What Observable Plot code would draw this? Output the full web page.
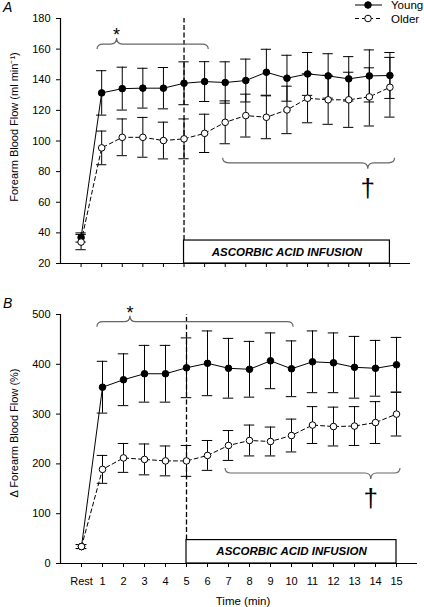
<!DOCTYPE html>
<html><head><meta charset="utf-8">
<script src="https://cdn.jsdelivr.net/npm/d3@7"></script>
<script src="https://cdn.jsdelivr.net/npm/@observablehq/plot@0.6"></script>
<style>
body{margin:0;background:#fff;font-family:"Liberation Sans",Arial,sans-serif;}
#chart{width:424px;}
#chart svg{display:block;overflow:visible;}
</style></head><body><div id="chart"></div>
<script>
// ---- data ----
const timeValues = [0,1,2,3,4,5,6,7,8,9,10,11,12,13,14,15];
const timeLabels = ["Rest","1","2","3","4","5","6","7","8","9","10","11","12","13","14","15"];
const seriesNames = ["Young","Older"];

const flowYoung    = [37,131.4,134.2,134.5,134.5,137.7,138.8,138.2,139.5,144.9,141,143.8,142.5,140.6,142.5,142.8];
const flowYoungErr = [3,14.5,14,13,13.5,14,13,13.5,14,15,15,14,14.5,14.5,17,15];
const flowOlder    = [34,95.5,102.4,102.4,100.3,101.4,105,112.2,116.6,115.5,120.3,127.9,126.9,126.9,128.8,135.1];
const flowOlderErr = [5,11,12,13,12,13,12.5,14,14,14,15.5,16,16,18,19,19.5];

const pctYoung    = [34,354,369,381,381,393,402,392,390,407,391,405,403,394,392,399];
const pctYoungErr = [4,52,52,57,57,60,65,60,56,56,56,62,60,62,56,55];
const pctOlder    = [34,189,212,209,206,206,217,237,247,245,257,278,275,276,283,300];
const pctOlderErr = [4,28,29,31,30,31,30,30,31,29,33,37,39,39,42,44];

const flowTicks = [20,40,60,80,100,120,140,160,180];
const pctTicks = [0,100,200,300,400,500];

const infusionLabel = "ASCORBIC ACID INFUSION";
const infusionStart = 5, infusionEnd = 15;

const flowBraces = [
  {from:0.8, to:6.2, tip:1.75, at:163, dir:-1, symbol:"*"},
  {from:6.9, to:15.25, tip:13.95, at:85.4, dir:1, symbol:"†"}
];
const pctBraces = [
  {from:0.76, to:10.1, tip:2.33, at:484.5, dir:-1, symbol:"*"},
  {from:6.86, to:15.19, tip:13.8, at:180.7, dir:1, symbol:"†"}
];

const FONT = "Liberation Sans, Arial, sans-serif";

function bracesMark(braces) {
  return (index, scales) => {
    const g = d3.create("svg:g").attr("fill", "black");
    for (const b of braces) {
      const x1 = scales.x(b.from), x2 = scales.x(b.to), xt = scales.x(b.tip), y = scales.y(b.at);
      const s = b.dir, c = 6, v = 5, tv = 6;
      const p = `M${x1},${y - s*v} Q${x1},${y} ${x1+c},${y} L${xt-c},${y} Q${xt},${y} ${xt},${y + s*tv} Q${xt},${y} ${xt+c},${y} L${x2-c},${y} Q${x2},${y} ${x2},${y - s*v}`;
      g.append("path").attr("d", p).attr("fill","none").attr("stroke","#666").attr("stroke-width",1.2);
      if (b.symbol === "*") {
        g.append("text").attr("x", xt).attr("y", y - tv + 3).attr("text-anchor","middle")
          .attr("font-family", FONT).attr("font-size", 18).attr("fill", "black").text(b.symbol);
      } else {
        g.append("text").attr("x", xt).attr("y", y + 34).attr("text-anchor","middle")
          .attr("font-family", FONT).attr("font-size", 26).attr("fill", "black").text(b.symbol);
      }
    }
    return g.node();
  };
}

function labelsMark({letter, yLabel, yLabelCenter, legend, xTitle}) {
  return (index, scales, values, dims) => {
    const g = d3.create("svg:g").attr("font-family", FONT).attr("fill","black");
    g.append("text").attr("x", 3).attr("y", 12).attr("text-anchor","start")
      .attr("font-size", 14).attr("font-style","italic").text(letter);
    g.append("text").attr("transform", `translate(18,${yLabelCenter}) rotate(-90)`)
      .attr("text-anchor","middle").attr("font-size", 11).text(yLabel);
    if (legend) {
      const rows = [{name: seriesNames[0], y: 5, fill: "black", dash: null},
                    {name: seriesNames[1], y: 18.5, fill: "white", dash: "4,3"}];
      for (const r of rows) {
        g.append("line").attr("x1",355).attr("x2",382).attr("y1",r.y).attr("y2",r.y)
          .attr("stroke","black").attr("stroke-width",1).attr("stroke-dasharray", r.dash);
        g.append("circle").attr("cx",368).attr("cy",r.y).attr("r",3.3)
          .attr("fill", r.fill).attr("stroke","black").attr("stroke-width",1);
        g.append("text").attr("x",391).attr("y",r.y+4).attr("text-anchor","start")
          .attr("font-size",11.5).text(r.name);
      }
    }
    if (xTitle) {
      g.append("text").attr("x", 243).attr("y", dims.height - 2).attr("text-anchor","middle")
        .attr("font-size", 11.5).text(xTitle);
    }
    return g.node();
  };
}

function panel(o) {
  const rows = timeValues.map((t, i) => ({t, young: o.young[i], youngErr: o.youngErr[i], older: o.older[i], olderErr: o.olderErr[i]}));
  const infusion = [{start: infusionStart, end: infusionEnd, top: o.infusionTop, label: infusionLabel}];
  const y0 = o.yDomain[0];
  const hw = 0.25;
  return Plot.plot({
    width: 424, height: o.height,
    marginLeft: 60, marginRight: o.marginRight, marginTop: o.marginTop, marginBottom: o.marginBottom,
    style: {fontFamily: FONT, fontSize: "11px", color: "black", background: "white", overflow: "visible"},
    x: {domain: [-1, 16], ticks: timeValues, tickSize: 4, tickPadding: 10, label: null,
        tickFormat: o.showTickLabels ? (d => timeLabels[d]) : (() => "")},
    y: {domain: o.yDomain, ticks: o.yTicks, tickSize: 4, tickPadding: 6, label: null},
    marks: [
      Plot.ruleX(infusion, {x: "start", y1: "top", y2: o.yDomain[1], stroke: "black", strokeWidth: 1.3, strokeDasharray: "5,2.5"}),
      Plot.rect(infusion, {x1: "start", x2: "end", y1: y0, y2: "top", fill: "white", stroke: "black", strokeWidth: 1.2}),
      Plot.text(infusion, {x: d => (d.start + d.end) / 2, y: d => (y0 + d.top) / 2, text: "label",
        fontWeight: "bold", fontStyle: "italic", fontSize: 11.5, fill: "black"}),
      Plot.ruleX([-1], {stroke: "black", strokeWidth: 1.2}),
      Plot.ruleY([y0], {stroke: "black", strokeWidth: 1.2}),
      // error bars
      Plot.ruleX(rows, {x: "t", y1: d => d.older - d.olderErr, y2: d => d.older + d.olderErr, stroke: "black"}),
      Plot.ruleY(rows, {y: d => d.older - d.olderErr, x1: d => d.t - hw, x2: d => d.t + hw, stroke: "black"}),
      Plot.ruleY(rows, {y: d => d.older + d.olderErr, x1: d => d.t - hw, x2: d => d.t + hw, stroke: "black"}),
      Plot.ruleX(rows, {x: "t", y1: d => d.young - d.youngErr, y2: d => d.young + d.youngErr, stroke: "black"}),
      Plot.ruleY(rows, {y: d => d.young - d.youngErr, x1: d => d.t - hw, x2: d => d.t + hw, stroke: "black"}),
      Plot.ruleY(rows, {y: d => d.young + d.youngErr, x1: d => d.t - hw, x2: d => d.t + hw, stroke: "black"}),
      // lines
      Plot.line(rows, {x: "t", y: "older", stroke: "black", strokeWidth: 1, strokeDasharray: "4,3"}),
      Plot.line(rows, {x: "t", y: "young", stroke: "black", strokeWidth: 1}),
      Plot.dot(rows, {x: "t", y: "young", r: 3.3, fill: "black", stroke: "black", strokeWidth: 1}),
      Plot.dot(rows, {x: "t", y: "older", r: 3.3, fill: "white", stroke: "black", strokeWidth: 1}),
      bracesMark(o.braces),
      labelsMark(o)
    ]
  });
}

const chart = document.getElementById("chart");
chart.append(panel({
  height: 296, marginTop: 18, marginBottom: 33, marginRight: 14,
  yDomain: [20, 180], yTicks: flowTicks,
  young: flowYoung, youngErr: flowYoungErr, older: flowOlder, olderErr: flowOlderErr,
  infusionTop: 35, braces: flowBraces, showTickLabels: false,
  letter: "A", yLabel: "Forearm Blood Flow (ml min⁻¹)", yLabelCenter: 127, legend: true
}));
chart.append(panel({
  height: 311, marginTop: 18, marginBottom: 44, marginRight: 7,
  yDomain: [0, 500], yTicks: pctTicks,
  young: pctYoung, youngErr: pctYoungErr, older: pctOlder, olderErr: pctOlderErr,
  infusionTop: 47, braces: pctBraces, showTickLabels: true,
  letter: "B", yLabel: "Δ Forearm Blood Flow (%)", yLabelCenter: 137, legend: false, xTitle: "Time (min)"
}));
</script></body></html>
